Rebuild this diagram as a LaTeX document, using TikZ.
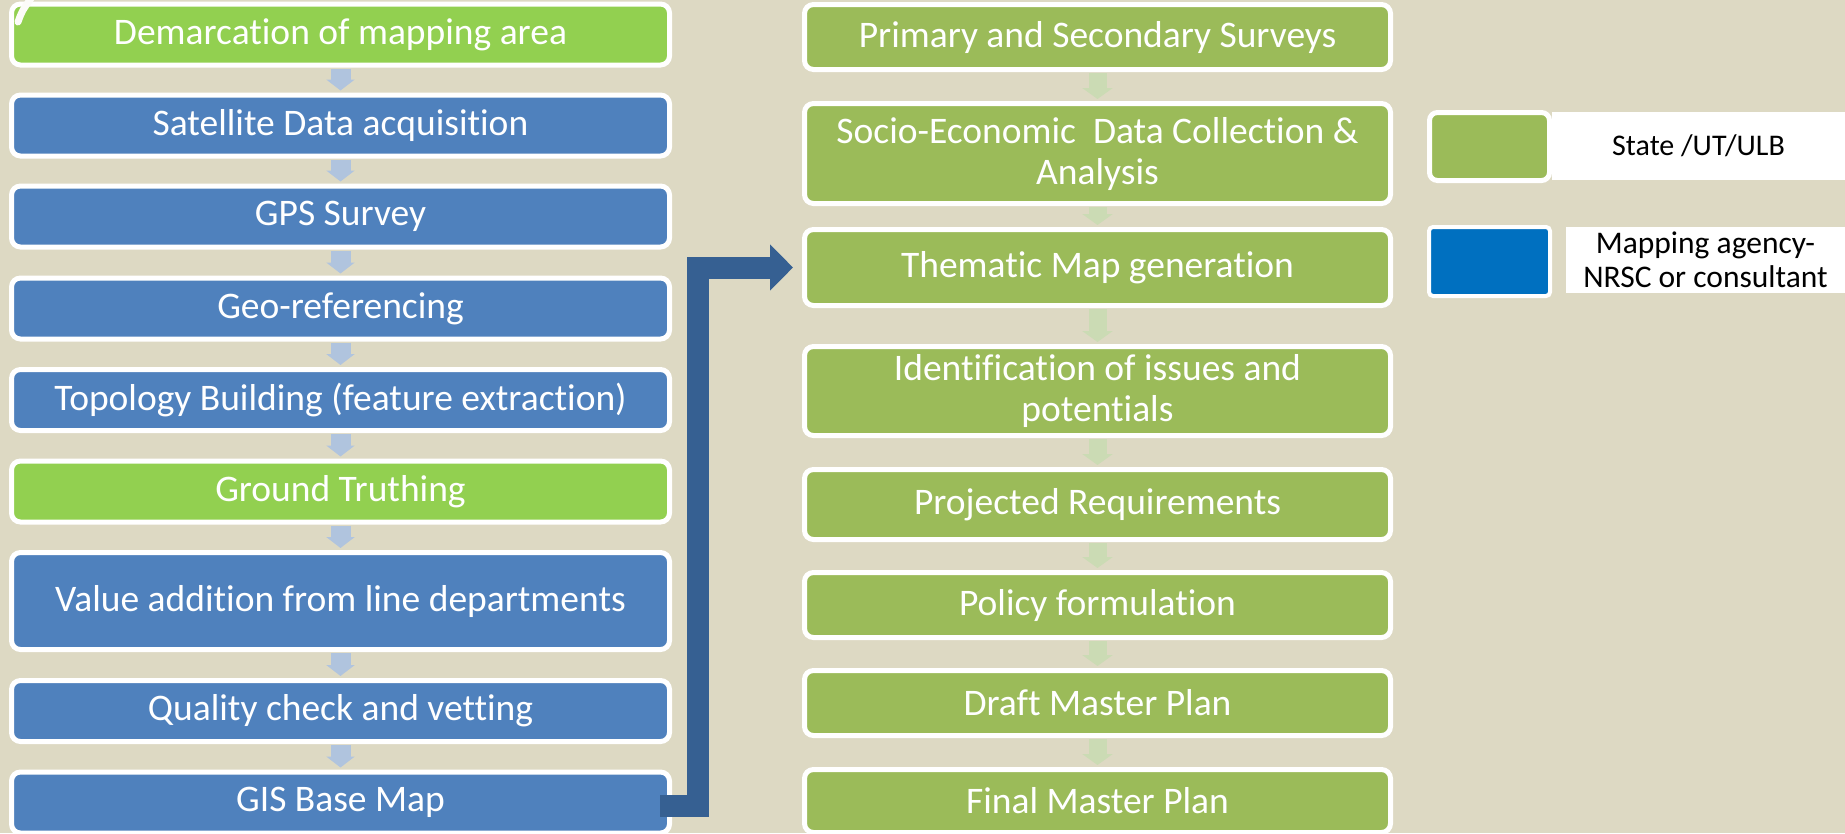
\documentclass[tikz,border=0pt]{standalone}
\usepackage{fontspec}
\setmainfont{Carlito}[Ligatures=NoCommon]
\usetikzlibrary{arrows.meta}
\definecolor{bg}{RGB}{221,217,195}
\definecolor{boxblue}{RGB}{79,129,189}
\definecolor{limegreen}{RGB}{146,208,80}
\definecolor{olivegreen}{RGB}{155,187,89}
\definecolor{legblue}{RGB}{0,112,192}
\definecolor{arrblue}{RGB}{176,196,222}
\definecolor{arrgreen}{RGB}{203,219,180}
\definecolor{darkarrow}{RGB}{54,96,146}
\begin{document}
\begin{tikzpicture}[x=1pt,y=-1pt,
  stepbox/.style={draw=white, line width=5pt, rounded corners=9pt, text=white,
    font=\fontsize{37.5}{41}\selectfont, align=center, inner sep=0pt, anchor=center},
  leftbox/.style={stepbox, minimum width=658pt, minimum height=61pt},
  rightbox/.style={stepbox, fill=olivegreen, minimum width=586pt},
  flowL/.style={draw=arrblue, line width=20pt, line cap=butt,
    -{Triangle[width=28pt,length=11pt]}, shorten <=1pt, shorten >=2pt},
  flowR/.style={draw=arrgreen, line width=18pt, line cap=butt,
    -{Triangle[width=30pt,length=11pt]}, shorten <=1pt, shorten >=2pt},
  bent/.style={draw=darkarrow, line width=22pt, line join=miter, line cap=butt,
    -{Triangle[width=45pt,length=23pt]}},
  legtext/.style={fill=white, text=black, inner sep=0pt, align=center}
]
\fill[bg] (0,0) rectangle (1845,833);
\useasboundingbox (0,0) rectangle (1845,833);

% left column
\node[leftbox, fill=limegreen] (l1) at (340.5,34.5) {Demarcation of mapping area};
\node[leftbox, fill=boxblue] (l2) at (340.5,125.5) {Satellite Data acquisition};
\node[leftbox, fill=boxblue] (l3) at (340.5,216.5) {GPS Survey};
\node[leftbox, fill=boxblue] (l4) at (340.5,308.5) {Geo-referencing};
\node[leftbox, fill=boxblue] (l5) at (340.5,400) {Topology Building (feature extraction)};
\node[leftbox, fill=limegreen] (l6) at (340.5,491.5) {Ground Truthing};
\node[leftbox, fill=boxblue, minimum height=97pt] (l7) at (340.5,601) {Value addition from line departments};
\node[leftbox, fill=boxblue] (l8) at (340.5,711) {Quality check and vetting};
\node[leftbox, fill=boxblue] (l9) at (340.5,802.5) {GIS Base Map};

\foreach \a/\b in {l1/l2,l2/l3,l3/l4,l4/l5,l5/l6,l6/l7,l7/l8,l8/l9}
  \draw[flowL] (\a.south) -- (\b.north);

% right column
\node[rightbox, minimum height=65pt] (r1) at (1097.5,37) {Primary and Secondary Surveys};
\node[rightbox, minimum height=100pt] (r2) at (1097.5,153.5) {Socio-Economic\ \ Data Collection \&\\Analysis};
\node[rightbox, minimum height=76pt] (r3) at (1097.5,267.5) {Thematic Map generation};
\node[rightbox, minimum height=89pt] (r4) at (1097.5,391) {Identification of issues and\\potentials};
\node[rightbox, minimum height=70pt] (r5) at (1097.5,504.5) {Projected Requirements};
\node[rightbox, minimum height=65pt] (r6) at (1097.5,605) {Policy formulation};
\node[rightbox, minimum height=65pt] (r7) at (1097.5,703) {Draft Master Plan};
\node[rightbox, minimum height=63pt] (r8) at (1097.5,801) {Final Master Plan};

\foreach \a/\b in {r1/r2,r2/r3,r3/r4,r4/r5,r5/r6,r6/r7,r7/r8}
  \draw[flowR] (\a.south) -- (\b.north);

% bent connector
\coordinate (bend) at (697.5,267.5);
\draw[bent, shorten >=9pt] ([xshift=-12pt,yshift=-3.5pt]l9.east) -| (bend) -- (r3.west);

% legend
\node[draw=white, line width=5pt, rounded corners=8pt, fill=olivegreen,
  minimum width=120pt, minimum height=68pt, inner sep=0pt] (lgA) at (1489.5,146.5) {};
\node[legtext, font=\fontsize{30}{34}\selectfont, minimum width=293pt, minimum height=68pt] (lgAt) at (1698.5,146) {State /UT/ULB};
\node[draw=white, line width=4pt, rounded corners=4pt, fill=legblue,
  minimum width=121pt, minimum height=69pt, inner sep=0pt] (lgB) at (1489.5,261.5) {};
\node[legtext, font=\fontsize{31.5}{34}\selectfont, minimum width=279pt, minimum height=66pt] (lgBt) at (1705.5,260) {Mapping agency-\\NRSC or consultant};

% decorative mark top-left
\draw[white!90!bg, line width=7pt, line cap=round] (18,22) .. controls (22,11) .. (32,-3);
\end{tikzpicture}
\end{document}
